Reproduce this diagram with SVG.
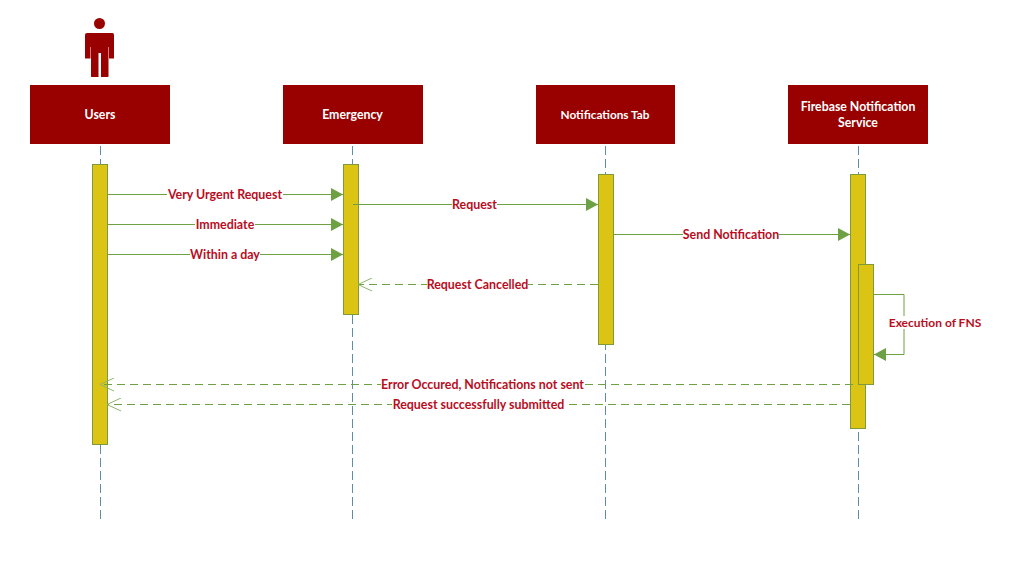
<svg xmlns="http://www.w3.org/2000/svg" width="1028" height="578" viewBox="0 0 1028 578">
<style>
.life{stroke:#5b8fa8;stroke-width:1;stroke-dasharray:9 4;fill:none}
.head{fill:#990000}
.headt{font:bold 12.300px Lato,"Liberation Sans",sans-serif;fill:#fff;text-anchor:middle}
.bar{fill:#dcc414;stroke:#7f9a3a;stroke-width:1}
.msg{stroke:#6ea044;stroke-width:1;fill:none}
.ret{stroke:#6ea044;stroke-width:1;fill:none;stroke-dasharray:8 5}
.lab{font:bold 12.400px Lato,"Liberation Sans",sans-serif;fill:#b90d1e;text-anchor:middle}
.bg{fill:#fff}
</style>
<defs>
<marker id="solid" markerUnits="userSpaceOnUse" markerWidth="13" markerHeight="14" refX="12" refY="7" orient="auto"><path d="M0 0.500L12 7L0 13.500Z" fill="#6ea044"/></marker>
<marker id="open" markerUnits="userSpaceOnUse" markerWidth="15" markerHeight="14" refX="14" refY="7" orient="auto"><path d="M0 0.500L14 7L0 13.500" fill="none" stroke="#8fb56e" stroke-width="1"/></marker>
</defs>
<rect width="1028" height="578" fill="#fff"/>
<g id="lifelines">
<path class="life" d="M100.500 146V520"/>
<path class="life" d="M352.500 146V520"/>
<path class="life" d="M605.500 146V520"/>
<path class="life" d="M858.500 146V520"/>
</g>
<g id="actor-icon">
<circle cx="99.500" cy="23.500" r="5.500" fill="#990000"/>
<path fill="#990000" d="M87 33H112.500Q114 33 114 35V58.500H109V47H108.500V76.500Q108.500 77 107 77H101V53H98.500V77H92.500Q91 77 91 76.500V47H90.500V58.500H85V35Q85 33 87 33Z"/>
</g>
<g id="users"><rect class="head" x="30" y="85" width="140" height="59"/><text class="headt" x="100" y="118.500">Users</text></g>
<g id="emergency"><rect class="head" x="283" y="85" width="140" height="59"/><text class="headt" x="352.500" y="118.500">Emergency</text></g>
<g id="notifications-tab"><rect class="head" x="536" y="85" width="139" height="59"/><text class="headt" x="605" y="118.500" style="font-size:11.800px">Notifications Tab</text></g>
<g id="firebase"><rect class="head" x="788" y="85" width="140" height="59"/><text class="headt" x="858" y="110.500">Firebase Notification</text><text class="headt" x="858" y="126.500">Service</text></g>
<g id="activations">
<rect id="act-users" class="bar" x="92.500" y="164.500" width="15" height="280"/>
<rect id="act-emergency" class="bar" x="343.500" y="164.500" width="15" height="150"/>
<rect id="act-notifications" class="bar" x="598.500" y="174.500" width="15" height="170"/>
<rect id="act-firebase" class="bar" x="850.500" y="174.500" width="15" height="254"/>
<rect id="act-fns" class="bar" x="858.500" y="264.500" width="15" height="120"/>
</g>
<g id="connectors">
<path class="msg" marker-end="url(#solid)" d="M108 194.500H343"/>
<path class="msg" marker-end="url(#solid)" d="M108 224.500H343"/>
<path class="msg" marker-end="url(#solid)" d="M108 254.500H343"/>
<path class="msg" marker-end="url(#solid)" d="M353 204.500H598"/>
<path class="msg" marker-end="url(#solid)" d="M614 234.500H850"/>
<path class="msg" marker-end="url(#solid)" d="M874 294.500H904V354.500H874"/>
<path class="ret" marker-end="url(#open)" d="M598 284.500H358"/>
<path class="ret" marker-end="url(#open)" d="M853 384.500H100"/>
<path class="ret" marker-end="url(#open)" d="M850 404.500H107"/>
</g>
<g id="labels">
<rect class="bg" x="167" y="188" width="116" height="13"/><text class="lab" x="225" y="198.500">Very Urgent Request</text>
<rect class="bg" x="195" y="218" width="60" height="13"/><text class="lab" x="225" y="228.500">Immediate</text>
<rect class="bg" x="190" y="248" width="70" height="13"/><text class="lab" x="225" y="258.500">Within a day</text>
<rect class="bg" x="452" y="198" width="45" height="13"/><text class="lab" x="474.500" y="208.500">Request</text>
<rect class="bg" x="683" y="228" width="96" height="13"/><text class="lab" x="731" y="238.500">Send Notification</text>
<rect class="bg" x="427" y="278" width="101" height="13"/><text class="lab" x="477.500" y="288.500">Request Cancelled</text>
<rect class="bg" x="381" y="378" width="203" height="13"/><text class="lab" x="482.500" y="388.500">Error Occured, Notifications not sent</text>
<rect class="bg" x="392" y="398" width="173" height="13"/><text class="lab" x="478.500" y="408.500">Request successfully submitted</text>
<rect class="bg" x="889" y="316" width="92" height="13"/><text class="lab" x="935" y="326.500" style="font-size:12px">Execution of FNS</text>
</g>
</svg>
